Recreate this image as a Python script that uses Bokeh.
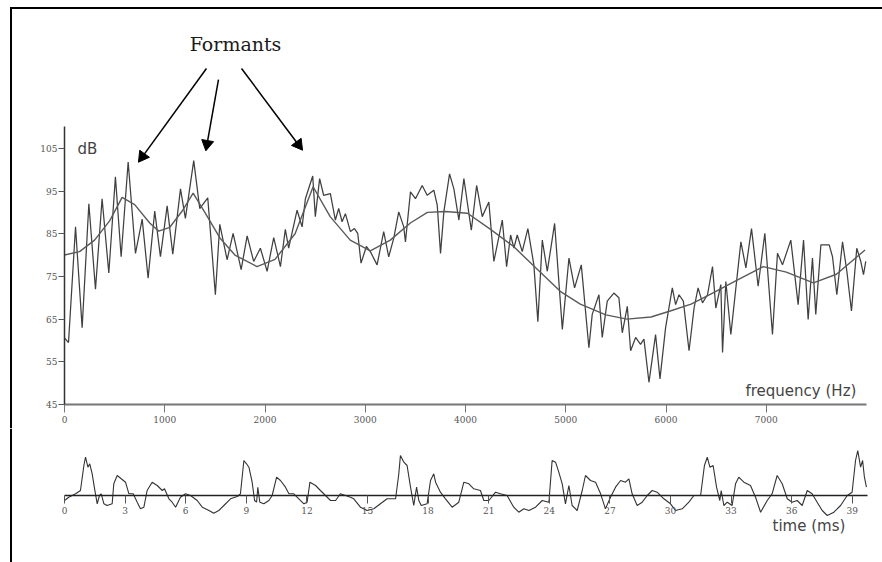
import math
from bokeh.plotting import figure
from bokeh.models import Range1d, LinearAxis, FixedTicker, Label, BoxAnnotation
from bokeh.layouts import column
from bokeh.embed import file_html
from bokeh.resources import INLINE

# ---------------- data ----------------
spec_hz = [0, 40, 110, 176, 243, 309, 375, 442, 508, 565, 635, 708, 775, 834, 900, 957,
           1024, 1080, 1157, 1206, 1289, 1349, 1429, 1505, 1549, 1622, 1682, 1762, 1822,
           1887, 1954, 2021, 2087, 2154, 2203, 2236, 2320, 2370, 2403, 2476, 2502, 2545,
           2585, 2652, 2702, 2735, 2769, 2802, 2852, 2892, 2925, 2958, 3011, 3051, 3118,
           3184, 3234, 3284, 3334, 3384, 3401, 3451, 3501, 3568, 3618, 3684, 3718, 3751,
           3784, 3841, 3884, 3934, 3984, 4058, 4111, 4167, 4233, 4283, 4367, 4410, 4450,
           4483, 4516, 4566, 4622, 4682, 4722, 4766, 4816, 4889, 4966, 5032, 5088, 5155,
           5231, 5264, 5331, 5364, 5414, 5480, 5530, 5564, 5614, 5647, 5697, 5746, 5780,
           5830, 5896, 5940, 5996, 6063, 6096, 6130, 6173, 6230, 6280, 6320, 6364, 6414,
           6464, 6497, 6547, 6564, 6597, 6647, 6697, 6747, 6797, 6853, 6919, 6986, 7062,
           7112, 7162, 7245, 7318, 7372, 7418, 7461, 7494, 7545, 7628, 7661, 7704, 7761,
           7804, 7850, 7903, 7943, 7970, 7993]
spec_db = [60.6, 59.5, 86.6, 63.0, 92.0, 72.0, 93.2, 75.8, 98.3, 79.6, 101.8, 80.4, 88.4, 74.6, 90.3, 79.6,
           91.5, 80.2, 95.5, 88.6, 102.1, 90.9, 93.4, 70.7, 87.2, 78.9, 85.1, 76.6, 84.5,
           78.5, 81.6, 76.2, 84.1, 77.3, 86.0, 81.6, 90.5, 86.6, 93.2, 98.5, 89.0, 97.9,
           94.0, 94.4, 88.2, 90.9, 87.8, 89.7, 85.5, 86.2, 85.1, 78.1, 82.0, 80.8, 77.7,
           85.5, 79.6, 83.9, 90.1, 86.6, 83.1, 94.8, 93.2, 96.3, 94.0, 95.2, 91.7, 80.4,
           90.1, 99.0, 95.5, 88.2, 97.9, 85.8, 96.3, 89.0, 92.4, 78.5, 88.2, 77.3, 84.7,
           81.6, 84.7, 80.8, 86.2, 77.7, 64.4, 83.5, 76.2, 87.4, 62.6, 79.3, 72.3, 77.7,
           58.3, 66.1, 70.7, 60.7, 69.2, 71.1, 70.0, 61.8, 68.0, 57.6, 60.7, 59.1, 60.3,
           50.2, 61.4, 51.0, 63.0, 72.3, 68.4, 70.7, 69.2, 57.6, 67.6, 72.3, 68.8, 70.7,
           77.3, 67.6, 73.1, 57.2, 73.8, 61.4, 72.3, 83.1, 77.0, 86.2, 72.7, 85.1, 61.4,
           80.4, 77.7, 83.5, 68.4, 83.5, 64.9, 79.3, 66.1, 82.4, 82.4, 79.6, 70.7, 83.1,
           76.2, 66.9, 81.6, 78.5, 75.4, 78.5]

env_hz = [0, 150, 300, 450, 575, 700, 850, 940, 1050, 1180, 1283, 1400, 1550, 1700, 1920,
          2100, 2300, 2480, 2650, 2850, 3050, 3250, 3450, 3620, 3800, 4020, 4250, 4480,
          4700, 4945, 5145, 5400, 5610, 5850, 6042, 6250, 6441, 6700, 6970, 7200, 7470,
          7700, 7986]
env_db = [80.0, 80.8, 83.5, 88.0, 93.5, 91.8, 87.5, 85.6, 86.5, 90.5, 94.5, 90.0, 84.0, 80.0,
          77.3, 79.0, 85.0, 96.0, 89.0, 83.5, 81.0, 83.5, 87.5, 90.0, 90.2, 89.8, 86.0, 82.0,
          77.0, 71.5, 68.5, 66.0, 65.0, 65.5, 66.9, 68.5, 70.8, 74.0, 77.3, 76.0, 73.5,
          75.5, 81.2]

wave_ms = [0.00, 0.21, 0.55, 0.79, 0.96, 1.04, 1.16, 1.25, 1.37, 1.49, 1.62, 1.73, 1.82, 1.95,
           2.11, 2.36, 2.44, 2.61, 2.81, 3.02, 3.19, 3.40, 3.60, 3.76, 3.93, 4.09, 4.34, 4.59,
           4.84, 4.95, 5.17, 5.33, 5.50, 5.74, 5.99, 6.24, 6.57, 6.82, 7.15, 7.39, 7.64, 7.89,
           8.22, 8.55, 8.71, 8.88, 9.01, 9.13, 9.29, 9.41, 9.51, 9.57, 9.67, 9.87, 10.12,
           10.28, 10.50, 10.69, 10.94, 11.11, 11.35, 11.60, 11.85, 12.01, 12.15, 12.43, 12.67,
           12.92, 13.17, 13.42, 13.66, 13.91, 14.16, 14.32, 14.65, 14.98, 15.31, 15.64, 15.97,
           16.39, 16.55, 16.63, 16.80, 16.96, 17.13, 17.29, 17.43, 17.54, 17.66, 17.95, 18.12,
           18.28, 18.37, 18.61, 18.86, 19.19, 19.52, 19.77, 20.02, 20.26, 20.59, 20.76, 21.01,
           21.34, 21.58, 21.91, 22.24, 22.49, 22.74, 22.99, 23.32, 23.65, 23.98, 24.14, 24.31,
           24.47, 24.64, 24.80, 24.97, 25.13, 25.38, 25.63, 25.79, 26.04, 26.29, 26.54, 26.78,
           27.03, 27.28, 27.53, 27.77, 27.94, 28.10, 28.35, 28.60, 28.85, 29.09, 29.34, 29.67,
           30.00, 30.25, 30.58, 30.91, 31.16, 31.49, 31.68, 31.82, 31.95, 32.11, 32.28, 32.44,
           32.51, 32.64, 32.81, 33.05, 33.22, 33.38, 33.63, 33.96, 34.21, 34.46, 34.79, 35.03,
           35.28, 35.53, 35.78, 36.02, 36.27, 36.52, 36.77, 37.01, 37.26, 37.51, 37.76, 38.09,
           38.42, 38.75, 38.99, 39.16, 39.27, 39.41, 39.51, 39.60, 39.70]
wave_amp = [-0.5, -0.17, 0.17, 0.5, 3.0, 3.83, 2.83, 3.17, 2.17, 0.67, -0.83, 0.0, 0.17, -0.83,
            -1.0, -0.83, 1.17, 2.0, 1.67, 1.33, 0.17, 0.17, -0.67, -1.33, -1.17, 0.5, 1.33, 1.0,
            0.5, 0.67, -0.33, -0.67, -1.17, -0.17, 0.17, 0.0, -0.5, -1.17, -1.5, -1.77, -1.5, -1.0,
            -0.33, -0.1, 0.17, 3.5, 3.17, 2.83, 1.33, -0.5, -0.67, 0.83, -0.67, -0.83, -0.5,
            0.0, 1.83, 1.5, 0.83, 0.17, 0.17, -0.33, -0.83, -0.67, 1.33, 1.0, 0.5,
            0.0, -0.5, -0.5, 0.17, 0.0, -0.17, -0.33, -1.17, -1.5, -1.33, -0.83, -0.33,
            -0.33, 2.17, 4.0, 3.33, 3.0, 0.83, -1.0, 0.83, -0.5, -1.0, -0.83, 1.5,
            2.17, 1.33, 0.33, -0.33, -1.17, -0.67, 1.33, 1.17, 0.67, 0.5, -0.5, -0.5,
            0.33, 0.17, 0.0, -1.17, -1.67, -1.33, -1.5, -1.17, -0.5, -0.67, 3.5, 3.33,
            2.33, 1.17, -0.83, 1.0, -1.0, -1.5, 0.5, 2.0, 1.5, 1.33, 0.17, -1.33,
            -0.17, 0.83, 1.5, 1.33, 1.67, 0.17, -1.0, -0.67, 0.0, 0.5, 0.33, -0.33,
            -0.83, -1.5, -1.33, -0.67, 0.0, 0.0, 3.0, 3.83, 2.83, 3.0, 0.83, -0.5,
            0.5, -1.0, -0.67, -1.0, 1.17, 1.83, 1.33, 1.0, -0.17, -1.67, -0.5, 0.17,
            2.0, 1.17, -0.33, -0.67, -0.5, -1.0, 0.5, 0.17, -0.67, -1.5, -2.0, -1.67,
            -1.0, 0.0, 0.33, 3.5, 4.5, 2.83, 3.5, 1.83, 0.83]

db_ticks = [45, 55, 65, 75, 85, 95, 105]
hz_ticks = [0, 1000, 2000, 3000, 4000, 5000, 6000, 7000]
ms_ticks = [0, 3, 6, 9, 12, 15, 18, 21, 24, 27, 30, 33, 36, 39]

# annotation arrows (start Hz, start dB, end Hz, end dB)
arrow_x0 = [1416, 1536, 1766]
arrow_y0 = [123.7, 121.1, 123.7]
arrow_x1 = [758, 1416, 2354]
arrow_y1 = [102.4, 105.2, 105.2]

TICK_FONT = "DejaVu Serif"
LABEL_FONT = "DejaVu Sans"

# pixel scales of the panels (layout only)
W = 882
H_TOP, H_BOT = 428, 134
HZ_PX = 802 / 8000.0     # px per Hz
DB_PX = 4.27             # px per dB
MS_PX = 20.2             # px per ms
AMP_PX = 10.0            # px per amplitude unit

# ---------------- spectrum panel ----------------
p = figure(width=W, height=H_TOP,
           x_range=Range1d(-64 / HZ_PX, 8000 + 16 / HZ_PX),
           y_range=Range1d(45 - (H_TOP - 404) / DB_PX, 45 + 404 / DB_PX),
           output_backend="svg", toolbar_location=None, x_axis_location=None, y_axis_location=None,
           min_border=0, min_border_left=0, min_border_right=0, min_border_top=0, min_border_bottom=0,
           outline_line_color=None)
p.grid.visible = False

p.line(spec_hz, spec_db, line_color="#404040", line_width=1.25)
p.line(env_hz, env_db, line_color="#5a5a5a", line_width=1.4)

yax = LinearAxis(fixed_location=0, bounds=(45, 110), ticker=FixedTicker(ticks=db_ticks, minor_ticks=[]),
                 axis_line_color="#333333", axis_line_width=1.5,
                 major_tick_in=0, major_tick_out=6, major_tick_line_color="#555555", major_tick_line_width=1,
                 minor_tick_line_color=None, major_label_standoff=1,
                 major_label_text_font=TICK_FONT, major_label_text_font_size="9px",
                 major_label_text_color="#555555", major_label_text_baseline="bottom")
p.add_layout(yax, "left")
xax = LinearAxis(fixed_location=45, bounds=(0, 8000), ticker=FixedTicker(ticks=hz_ticks, minor_ticks=[]),
                 axis_line_color="#777777", axis_line_width=2,
                 major_tick_in=0, major_tick_out=8, major_tick_line_color="#777777", major_tick_line_width=1,
                 minor_tick_line_color=None, major_label_standoff=3,
                 major_label_text_font=TICK_FONT, major_label_text_font_size="9px",
                 major_label_text_color="#555555", major_label_text_align="left")
p.add_layout(xax, "below")

p.add_layout(Label(x=130, y=45 + (404 - 139) / DB_PX, text="dB", text_font=LABEL_FONT,
                   text_font_size="15px", text_color="#444444", text_baseline="top"))
p.add_layout(Label(x=6793, y=45 + (404 - 381) / DB_PX, text="frequency (Hz)", text_font=LABEL_FONT,
                   text_font_size="15px", text_color="#444444", text_baseline="top"))
p.add_layout(Label(x=1706, y=45 + (404 - 32) / DB_PX, text="Formants", text_font="DejaVu Serif",
                   text_font_size="19px", text_color="#1a1a1a", text_align="center", text_baseline="top"))

# arrows: shaft + triangular head pointing along the shaft
p.segment(arrow_x0, arrow_y0, arrow_x1, arrow_y1, line_color="black", line_width=1.5)
head_x, head_y, head_ang = [], [], []
for xs, ys, xe, ye in zip(arrow_x0, arrow_y0, arrow_x1, arrow_y1):
    dx, dy = (xe - xs) * HZ_PX, (ye - ys) * DB_PX
    L = math.hypot(dx, dy)
    back = 3.5
    head_x.append(xe - dx / L * back / HZ_PX)
    head_y.append(ye - dy / L * back / DB_PX)
    head_ang.append(math.atan2(dy, dx) - math.pi / 2)
p.scatter(head_x, head_y, marker="triangle", size=12, angle=head_ang,
          fill_color="black", line_color="black")

# page border (top and left)
p.add_layout(BoxAnnotation(left=(9.5 - 64) / HZ_PX, top=45 + (404 - 6.5) / DB_PX,
                           bottom=45 + (404 - 8.5) / DB_PX,
                           fill_color="black", fill_alpha=1, line_color=None))
p.add_layout(BoxAnnotation(left=(9.5 - 64) / HZ_PX, right=(11.5 - 64) / HZ_PX,
                           top=45 + (404 - 6.5) / DB_PX,
                           fill_color="black", fill_alpha=1, line_color=None))

# ---------------- waveform panel ----------------
q = figure(width=W, height=H_BOT,
           x_range=Range1d(-64 / MS_PX, (W - 64) / MS_PX),
           y_range=Range1d(-(H_TOP + H_BOT - 495) / AMP_PX, (495 - H_TOP) / AMP_PX),
           output_backend="svg", toolbar_location=None, x_axis_location=None, y_axis_location=None,
           min_border=0, min_border_left=0, min_border_right=0, min_border_top=0, min_border_bottom=0,
           outline_line_color=None)
q.grid.visible = False
q.line(wave_ms, wave_amp, line_color="#333333", line_width=1.1)
tax = LinearAxis(fixed_location=0, bounds=(0, 39.75), ticker=FixedTicker(ticks=ms_ticks, minor_ticks=[]),
                 axis_line_color="#222222", axis_line_width=1.5,
                 major_tick_in=0, major_tick_out=8, major_tick_line_color="#555555", major_tick_line_width=1,
                 minor_tick_line_color=None, major_label_standoff=3,
                 major_label_text_font=TICK_FONT, major_label_text_font_size="9px",
                 major_label_text_color="#555555", major_label_text_align="left")
q.add_layout(tax, "below")
q.add_layout(Label(x=35.05, y=-2.1, text="time (ms)", text_font=LABEL_FONT, text_font_size="15px",
                   text_color="#444444", text_baseline="top"))
q.add_layout(BoxAnnotation(left=(9.5 - 64) / MS_PX, right=(11.5 - 64) / MS_PX,
                           fill_color="black", fill_alpha=1, line_color=None))

layout = column(p, q, spacing=0)
open("out.html", "w").write(file_html(layout, INLINE))
